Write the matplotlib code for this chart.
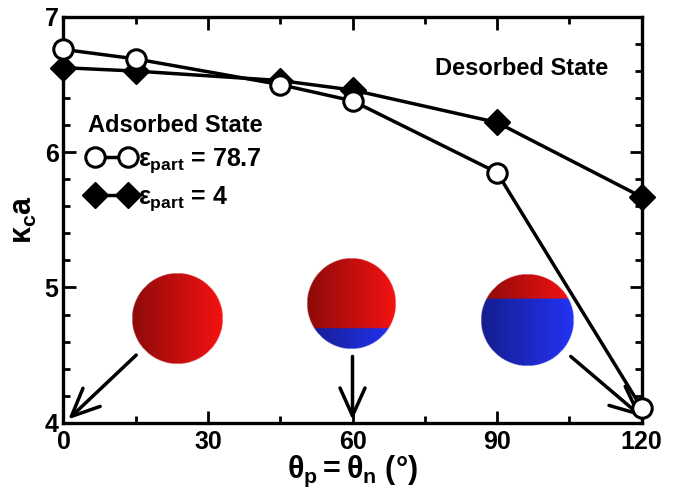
import matplotlib
matplotlib.use('Agg')
import matplotlib.pyplot as plt
import numpy as np
from matplotlib.ticker import MultipleLocator

plt.rcParams['font.family'] = ['Liberation Sans', 'DejaVu Sans']
plt.rcParams['font.weight'] = 'bold'
plt.rcParams['mathtext.fontset'] = 'custom'
plt.rcParams['mathtext.rm'] = 'Liberation Sans:bold'
plt.rcParams['mathtext.it'] = 'Liberation Sans:bold'
plt.rcParams['mathtext.bf'] = 'Liberation Sans:bold'

# data
theta = [0, 15, 45, 60, 90, 120]
kappa_eps787 = [6.76, 6.69, 6.50, 6.38, 5.85, 4.11]
kappa_eps4 = [6.625, 6.60, 6.53, 6.46, 6.22, 5.67]
label_eps787 = r'$\varepsilon_{part}$ = 78.7'
label_eps4 = r'$\varepsilon_{part}$ = 4'

fig = plt.figure(figsize=(6.74, 4.98), dpi=100)
ax = fig.add_axes([0.0942, 0.1512, 0.8576, 0.8147])

ax.plot(theta, kappa_eps787, '-o', color='black', lw=2.5, ms=14,
        mfc='white', mec='black', mew=2.2, clip_on=False, zorder=5,
        label=label_eps787)
ax.plot(theta, kappa_eps4, '-D', color='black', lw=2.5, ms=13,
        mfc='black', mec='black', clip_on=False, zorder=4,
        label=label_eps4)


# sphere illustrations (janus particles), shaded dark left -> bright right
def draw_sphere(cx, cy, rx, ry, split):
    n = 240
    u = np.linspace(-1, 1, n)
    U, V = np.meshgrid(u, u)
    inside = U**2 + V**2 <= 1
    shade = 0.58 + 0.42 * (U + 1) / 2
    img = np.zeros((n, n, 4))
    red = np.array([0.96, 0.07, 0.07])
    blue = np.array([0.14, 0.20, 0.96])
    is_blue = V < split
    for k in range(3):
        img[..., k] = np.where(is_blue, blue[k], red[k]) * shade
    img[..., 3] = inside.astype(float)
    ax.imshow(img, extent=[cx - rx, cx + rx, cy - ry, cy + ry],
              origin='lower', aspect='auto', interpolation='bilinear',
              zorder=1)


draw_sphere(23.5, 4.77, 9.36, 0.333, -2)
draw_sphere(59.8, 4.88, 9.2, 0.333, -0.54)
draw_sphere(96.3, 4.76, 9.56, 0.34, 0.47)

arrow = dict(arrowstyle='->,head_length=1.0,head_width=0.45', lw=2.5,
             color='black', shrinkA=0, shrinkB=0, mutation_scale=20)
ax.annotate('', xy=(1.0, 4.025), xytext=(15.1, 4.50), arrowprops=arrow)
ax.annotate('', xy=(60, 4.02), xytext=(60, 4.49), arrowprops=arrow)
ax.annotate('', xy=(120, 4.045), xytext=(105.3, 4.49), arrowprops=arrow)

ax.text(0.793, 0.874, 'Desorbed State', transform=ax.transAxes,
        ha='center', va='center', fontsize=17, fontweight='bold')

leg = ax.legend(loc='upper left', bbox_to_anchor=(0.012, 0.805),
                frameon=False, numpoints=2, handlelength=1.9,
                handletextpad=0.1, labelspacing=0.38, fontsize=18,
                title='Adsorbed State', alignment='left', borderpad=0.2)
leg.get_title().set_fontsize(17)
leg.get_title().set_fontweight('bold')

ax.set_xlim(0, 120)
ax.set_ylim(4, 7)
ax.xaxis.set_major_locator(MultipleLocator(30))
ax.xaxis.set_minor_locator(MultipleLocator(15))
ax.yaxis.set_major_locator(MultipleLocator(1))
ax.yaxis.set_minor_locator(MultipleLocator(0.2))
ax.tick_params(which='both', direction='in', top=True, right=True,
               width=2, labelsize=18)
ax.tick_params(which='major', length=9)
ax.tick_params(which='minor', length=5)
ax.tick_params(axis='x', pad=5)
for s in ax.spines.values():
    s.set_linewidth(2.4)

ax.set_xlabel(r'$\theta_p = \theta_n$ (°)', fontsize=22, fontweight='bold',
              labelpad=0)
ax.set_ylabel(r'$\kappa_c a$', fontsize=22, fontweight='bold', labelpad=4)

fig.savefig('out.png', dpi=100)
